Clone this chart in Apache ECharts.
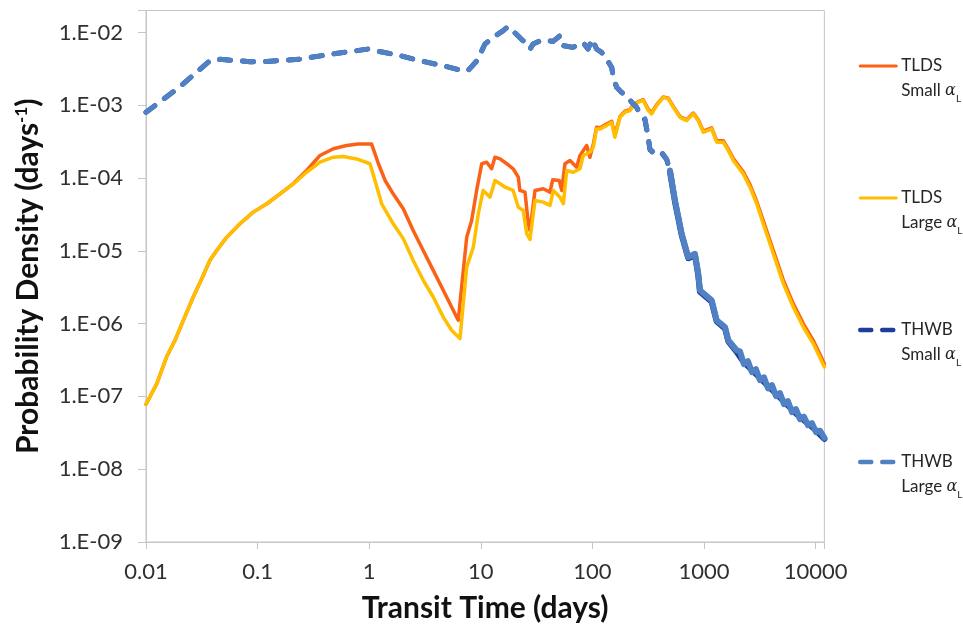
<!DOCTYPE html>
<html>
<head>
<meta charset="utf-8">
<script src="https://cdn.jsdelivr.net/npm/echarts@6/dist/echarts.min.js"></script>
<style>
  html, body { margin: 0; padding: 0; background: #ffffff; }
  #chart { width: 963px; height: 628px; }
</style>
</head>
<body>
<div id="chart"></div>
<script>
// Transit time distributions: [days, probability density (1/day)]
const tldsSmall = [
  [0.01, 7.8e-8], [0.0125, 1.5e-7], [0.0153, 3.5e-7], [0.0182, 5.9e-7], [0.0216, 1.11e-6],
  [0.0265, 2.32e-6], [0.0316, 4.14e-6], [0.0374, 7.4e-6], [0.043, 1.01e-5], [0.0529, 1.54e-5],
  [0.0695, 2.35e-5], [0.0914, 3.4e-5], [0.121, 4.43e-5], [0.159, 6.07e-5], [0.209, 8.4e-5],
  [0.275, 1.27e-4], [0.362, 2.04e-4], [0.477, 2.52e-4], [0.628, 2.79e-4], [0.794, 2.93e-4],
  [1.05, 2.94e-4], [1.21, 1.57e-4], [1.39, 9.25e-5], [1.64, 6.07e-5], [2.02, 3.78e-5],
  [2.48, 1.9e-5], [3.05, 1.01e-5], [3.75, 5.38e-6], [4.61, 2.87e-6], [5.48, 1.69e-6],
  [6.28, 1.11e-6], [6.51, 1.05e-6], [7.48, 1.54e-5], [8.28, 2.61e-5], [9.18, 6.75e-5],
  [10.2, 1.57e-4], [11.3, 1.65e-4], [12.5, 1.34e-4], [13.4, 1.93e-4], [14.9, 1.83e-4],
  [17.1, 1.57e-4], [19.5, 1.34e-4], [21.7, 1.03e-4], [22.4, 6.75e-5], [24.9, 6.39e-5],
  [26.7, 2.3e-5], [27.6, 1.9e-5], [30.6, 6.75e-5], [36.3, 7.11e-5], [41.7, 6.39e-5],
  [44.1, 9.44e-5], [50.5, 9.25e-5], [53.1, 6.75e-5], [56.8, 1.57e-4], [63, 1.74e-4],
  [72.3, 1.41e-4], [77.4, 2.04e-4], [88.9, 2.79e-4], [95, 1.93e-4], [102, 2.94e-4],
  [109, 4.98e-4], [117, 4.9e-4], [134, 5.5e-4], [149, 6.0e-4], [159, 3.9e-4],
  [177, 7.0e-4], [196, 8.3e-4], [217, 8.7e-4], [233, 1.02e-3], [258, 1.12e-3],
  [286, 1.19e-3], [317, 8.8e-4], [340, 7.9e-4], [377, 1.02e-3], [432, 1.3e-3],
  [479, 1.25e-3], [531, 9.6e-4], [609, 7.0e-4], [700, 6.3e-4], [802, 7.8e-4],
  [889, 6.3e-4], [986, 4.4e-4], [1172, 4.9e-4], [1300, 3.25e-4], [1490, 3.25e-4],
  [1652, 2.5e-4], [1832, 1.85e-4], [2250, 1.22e-4], [2582, 8.1e-5], [2965, 4.8e-5],
  [3398, 2.6e-5], [3902, 1.38e-5], [4483, 7.4e-6], [5143, 3.95e-6], [6310, 1.88e-6],
  [7762, 1.0e-6], [9530, 5.9e-7], [12000, 2.8e-7]
];

const tldsLarge = [
  [0.01, 7.8e-8], [0.0125, 1.5e-7], [0.0153, 3.5e-7], [0.0182, 5.9e-7], [0.0216, 1.11e-6],
  [0.0265, 2.32e-6], [0.0316, 4.14e-6], [0.0374, 7.4e-6], [0.043, 1.01e-5], [0.0529, 1.54e-5],
  [0.0695, 2.35e-5], [0.0914, 3.4e-5], [0.121, 4.43e-5], [0.159, 6.07e-5], [0.209, 8.32e-5],
  [0.275, 1.2e-4], [0.362, 1.65e-4], [0.477, 1.93e-4], [0.586, 1.97e-4], [0.773, 1.83e-4],
  [1.016, 1.57e-4], [1.127, 9.25e-5], [1.294, 4.43e-5], [1.643, 2.35e-5], [2.02, 1.47e-5],
  [2.48, 7.38e-6], [3.05, 3.93e-6], [3.75, 2.32e-6], [4.61, 1.23e-6], [5.48, 8.09e-7],
  [6.51, 6.22e-7], [7.48, 5.97e-6], [8.57, 1.12e-5], [9.5, 3.23e-5], [10.5, 6.75e-5],
  [12.1, 5.46e-5], [13.4, 9.25e-5], [14.9, 8.32e-5], [16.5, 7.48e-5], [19.5, 6.75e-5],
  [21.7, 3.97e-5], [24, 3.58e-5], [25.8, 1.72e-5], [27.6, 1.43e-5], [30.6, 4.91e-5],
  [36.3, 4.66e-5], [41.7, 4.2e-5], [44.7, 6.75e-5], [51.3, 5.46e-5], [54.9, 4.43e-5],
  [58.9, 1.27e-4], [67.5, 1.2e-4], [77.4, 1.34e-4], [82.8, 2.04e-4], [95, 2.26e-4],
  [102, 2.64e-4], [109, 4.73e-4], [117, 4.73e-4], [134, 5.25e-4], [149, 5.82e-4],
  [159, 3.63e-4], [177, 6.82e-4], [196, 8.0e-4], [217, 8.43e-4], [233, 9.88e-4],
  [258, 1.1e-3], [286, 1.16e-3], [317, 8.43e-4], [340, 7.6e-4], [377, 9.88e-4],
  [432, 1.28e-3], [479, 1.22e-3], [531, 9.36e-4], [609, 6.82e-4], [700, 6.15e-4],
  [802, 7.6e-4], [889, 6.15e-4], [986, 4.25e-4], [1172, 4.73e-4], [1300, 3.1e-4],
  [1490, 3.1e-4], [1652, 2.38e-4], [1832, 1.74e-4], [2250, 1.14e-4], [2582, 7.48e-5],
  [2965, 4.43e-5], [3398, 2.35e-5], [3902, 1.25e-5], [4483, 6.65e-6], [5143, 3.54e-6],
  [6310, 1.69e-6], [7762, 8.98e-7], [9530, 5.32e-7], [12000, 2.54e-7]
];

const thwbSmall = [
  [0.01, 8.0e-4], [0.0202, 1.8e-3], [0.0374, 4.1e-3], [0.046, 4.27e-3], [0.0855, 3.96e-3],
  [0.121, 4.0e-3], [0.24, 4.3e-3], [0.474, 5.06e-3], [0.975, 5.9e-3], [1.89, 4.79e-3],
  [2.85, 4.09e-3], [4.58, 3.49e-3], [6.51, 3.05e-3], [7.68, 2.99e-3], [9.24, 4.09e-3],
  [10.9, 6.93e-3], [12.9, 8.54e-3], [15.8, 1.05e-2], [17.5, 1.2e-2], [19.4, 1.05e-2],
  [23.9, 7.7e-3], [27.6, 5.9e-3], [29.4, 6.93e-3], [35.3, 7.87e-3], [44.4, 7.53e-3],
  [51.3, 9.0e-3], [54.6, 6.57e-3], [67, 6.23e-3], [82.4, 7.29e-3], [91.4, 5.92e-3],
  [99.3, 8.1e-3], [109, 5.92e-3], [121, 5.32e-3], [134, 4.32e-3], [149, 3.31e-3],
  [154, 2.41e-3], [165, 1.76e-3], [183, 1.5e-3], [203, 1.35e-3], [225, 1.1e-3],
  [249, 9.36e-4], [267, 7.6e-4], [296, 6.3e-4], [317, 3.5e-4], [328, 2.45e-4],
  [364, 2.1e-4], [418, 2.2e-4], [463, 1.8e-4], [496, 1.22e-4], [550, 4.7e-5],
  [631, 1.65e-5], [723, 7.9e-6], [830, 8.7e-6], [889, 4.6e-6], [920, 2.75e-6],
  [1172, 2.0e-6], [1300, 1.07e-6], [1543, 8.6e-7], [1652, 5.7e-7], [1963, 4.1e-7],
  [2250, 3.0e-7], [2766, 2.2e-7], [3648, 1.45e-7], [4800, 9.6e-8], [6770, 5.7e-8],
  [9530, 3.7e-8], [12000, 2.6e-8]
];

const thwbLarge = [
  [0.01, 8.0e-4], [0.0202, 1.8e-3], [0.0374, 4.1e-3], [0.046, 4.27e-3], [0.0855, 3.96e-3],
  [0.121, 4.0e-3], [0.24, 4.3e-3], [0.474, 5.06e-3], [0.975, 5.9e-3], [1.89, 4.79e-3],
  [2.85, 4.09e-3], [4.58, 3.49e-3], [6.51, 3.05e-3], [7.68, 2.99e-3], [9.24, 4.09e-3],
  [10.9, 6.93e-3], [12.9, 8.54e-3], [15.8, 1.05e-2], [17.5, 1.2e-2], [19.4, 1.05e-2],
  [23.9, 7.7e-3], [27.6, 5.9e-3], [29.4, 6.93e-3], [35.3, 7.87e-3], [44.4, 7.53e-3],
  [51.3, 9.0e-3], [54.6, 6.57e-3], [67, 6.23e-3], [82.4, 7.29e-3], [91.4, 5.92e-3],
  [99.3, 8.1e-3], [109, 5.92e-3], [121, 5.32e-3], [134, 4.32e-3], [149, 3.31e-3],
  [154, 2.41e-3], [165, 1.76e-3], [183, 1.5e-3], [203, 1.35e-3], [225, 1.1e-3],
  [249, 9.36e-4], [267, 7.6e-4], [296, 6.49e-4], [317, 3.63e-4], [328, 2.51e-4],
  [364, 2.15e-4], [418, 2.26e-4], [463, 1.83e-4], [496, 1.27e-4], [550, 4.91e-5],
  [631, 1.72e-5], [723, 8.2e-6], [830, 9.1e-6], [889, 4.85e-6], [920, 2.87e-6],
  [1172, 2.09e-6], [1300, 1.11e-6], [1543, 8.98e-7], [1652, 5.9e-7], [1963, 4.3e-7],
  [2102, 4.17e-7], [2282, 2.77e-7], [2479, 3.04e-7], [2693, 2.15e-7], [2924, 2.36e-7],
  [3175, 1.67e-7], [3449, 1.83e-7], [3746, 1.29e-7], [4068, 1.43e-7], [4418, 1.01e-7],
  [4797, 1.11e-7], [5211, 7.82e-8], [5658, 8.59e-8], [6145, 6.07e-8], [6674, 6.67e-8],
  [7248, 4.86e-8], [7873, 5.26e-8], [8550, 4.03e-8], [9284, 4.29e-8], [10083, 3.23e-8],
  [10950, 3.38e-8], [12000, 2.7e-8]
];

// Beyond this transit time the THWB results are so densely sampled and noisy
// that the dashed stroke reads as a continuous band.
const denseFromDays = 496;

const seriesNames = ['TLDS Small', 'TLDS Large', 'THWB Small', 'THWB Large'];
const seriesColors = ['#fb6216', '#ffbe00', '#1c3d9c', '#4f81c4'];

const FONT = 'Lato';
const AXIS_GREY = '#c6c6c6';

function decadeExp(v) {
  const e = Math.log10(v);
  const r = Math.round(e);
  return Math.abs(e - r) < 1e-6 ? r : null;
}
function xLabel(v) {
  const e = decadeExp(v);
  if (e === null) return '';
  return e < 0 ? Math.pow(10, e).toFixed(-e) : String(Math.pow(10, e));
}
function yLabel(v) {
  const e = decadeExp(v);
  if (e === null) return '';
  return '1.E' + (e < 0 ? '-' : '+') + String(Math.abs(e)).padStart(2, '0');
}

const solidStyle = { width: 3.5, join: 'round', cap: 'round' };
const dashedStyle = { width: 5, type: [11, 12], cap: 'round', join: 'round' };
const bandStyle = { width: 6, join: 'round', cap: 'round' };

const early = arr => arr.filter(p => p[0] <= denseFromDays);
const late = arr => arr.filter(p => p[0] >= denseFromDays);

function lineSeries(idx, data, style) {
  return { name: seriesNames[idx], type: 'line', data: data, symbol: 'none',
           color: seriesColors[idx], lineStyle: style };
}

const chart = echarts.init(document.getElementById('chart'), null, { renderer: 'canvas' });

chart.setOption({
  animation: false,
  backgroundColor: '#ffffff',
  grid: {
    left: 146, right: 138.6, top: 10.5, bottom: 85.3,
    show: true, borderColor: AXIS_GREY, borderWidth: 1, backgroundColor: 'transparent'
  },
  xAxis: {
    type: 'log', logBase: 10, min: 0.01, max: 12000,
    axisLine: { show: true, lineStyle: { color: AXIS_GREY, width: 1 } },
    axisTick: { show: true, inside: false, length: 7, lineStyle: { color: AXIS_GREY, width: 1 } },
    splitLine: { show: false },
    minorTick: { show: false },
    axisLabel: { formatter: xLabel, margin: 19, fontSize: 22, color: '#303030', fontFamily: FONT },
    name: 'Transit Time (days)', nameLocation: 'middle', nameGap: 51,
    nameTextStyle: { fontFamily: FONT, fontWeight: 'bold', fontSize: 30, color: '#111111' }
  },
  yAxis: {
    type: 'log', logBase: 10, min: 1e-9, max: 0.02,
    axisLine: { show: true, lineStyle: { color: AXIS_GREY, width: 1 } },
    axisTick: { show: true, inside: false, length: 8, lineStyle: { color: AXIS_GREY, width: 1 } },
    splitLine: { show: false },
    minorTick: { show: false },
    axisLabel: { formatter: yLabel, margin: 23, fontSize: 22, color: '#303030', fontFamily: FONT },
    name: 'Probability Density (days{sup|-1})', nameLocation: 'middle', nameGap: 103,
    nameTextStyle: {
      fontFamily: FONT, fontWeight: 'bold', fontSize: 30, color: '#111111',
      rich: { sup: { fontFamily: FONT, fontWeight: 'bold', fontSize: 17, color: '#111111', verticalAlign: 'top', lineHeight: 17 } }
    }
  },
  legend: {
    orient: 'vertical', left: 853, top: 23.5,
    itemWidth: 36, itemHeight: 14, itemGap: 57,
    selectedMode: false,
    itemStyle: { color: 'rgba(0,0,0,0)', borderWidth: 0, opacity: 0 },
    data: [
      { name: seriesNames[0], lineStyle: { width: 3, type: 'solid' } },
      { name: seriesNames[1], lineStyle: { width: 3, type: 'solid' } },
      { name: seriesNames[2], lineStyle: { width: 4.5, type: [11, 11], cap: 'round' } },
      { name: seriesNames[3], lineStyle: { width: 4.5, type: [11, 11], cap: 'round' } }
    ],
    formatter: function (name) {
      const parts = name.split(' ');
      return ' \n' + parts[0] + '\n' + parts[1] + ' {alpha|α}{sub|L}';
    },
    textStyle: {
      fontFamily: FONT, fontSize: 17, color: '#262626', lineHeight: 25,
      rich: {
        alpha: { fontFamily: 'DejaVu Serif', fontStyle: 'italic', fontSize: 16, color: '#262626', lineHeight: 25 },
        sub: { fontFamily: FONT, fontSize: 10, color: '#262626', verticalAlign: 'bottom', lineHeight: 16 }
      }
    }
  },
  series: [
    lineSeries(0, tldsSmall, solidStyle),
    lineSeries(1, tldsLarge, solidStyle),
    lineSeries(2, early(thwbSmall), dashedStyle),
    lineSeries(2, late(thwbSmall), bandStyle),
    lineSeries(3, early(thwbLarge), dashedStyle),
    lineSeries(3, late(thwbLarge), bandStyle)
  ]
});
</script>
</body>
</html>
